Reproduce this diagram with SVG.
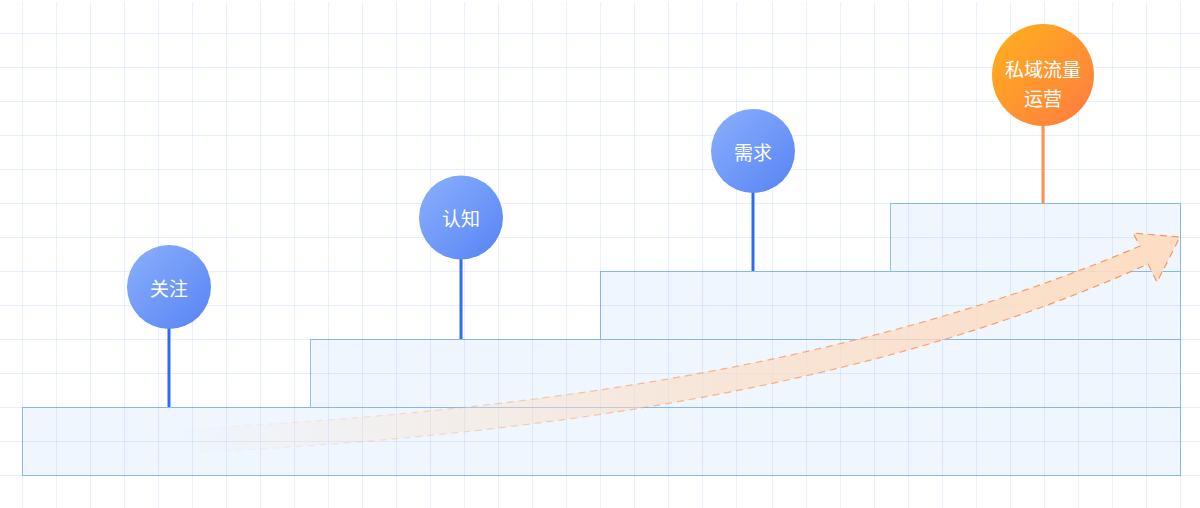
<svg xmlns="http://www.w3.org/2000/svg" width="1200" height="508" viewBox="0 0 1200 508">
  <defs>
    <linearGradient id="gBlue" x1="0" y1="0" x2="1" y2="1">
      <stop offset="0" stop-color="#8cb0fd"/>
      <stop offset="1" stop-color="#5683f3"/>
    </linearGradient>
    <linearGradient id="gOrange" x1="0" y1="0" x2="1" y2="1">
      <stop offset="0" stop-color="#ffb21c"/>
      <stop offset="1" stop-color="#ff7a42"/>
    </linearGradient>
    <linearGradient id="gArrowFill" gradientUnits="userSpaceOnUse" x1="170" y1="440" x2="1180" y2="240">
      <stop offset="0" stop-color="#fcdcc2" stop-opacity="0"/>
      <stop offset="0.2" stop-color="#fcdcc2" stop-opacity="0.25"/>
      <stop offset="0.55" stop-color="#fcdcc2" stop-opacity="0.65"/>
      <stop offset="1" stop-color="#fedcc0" stop-opacity="0.95"/>
    </linearGradient>
    <linearGradient id="gArrowStroke" gradientUnits="userSpaceOnUse" x1="170" y1="440" x2="1180" y2="240">
      <stop offset="0" stop-color="#f7955a" stop-opacity="0"/>
      <stop offset="0.2" stop-color="#f7955a" stop-opacity="0.25"/>
      <stop offset="0.55" stop-color="#f7955a" stop-opacity="0.7"/>
      <stop offset="1" stop-color="#f7955a" stop-opacity="1"/>
    </linearGradient>
  </defs>
  <style>
    .step { fill: #eff6fe; stroke: #8cc2f7; stroke-width: 1; }
    .grid { fill: none; stroke: rgba(70,125,240,0.12); stroke-width: 1; }
    .pin-blue { stroke: #2c6cf6; stroke-width: 3; }
    .pin-orange { stroke: #ff9050; stroke-width: 3; }
    .label { font-family: "Noto Sans CJK SC", "Noto Sans", sans-serif; font-size: 19px; fill: #ffffff; text-anchor: middle; dominant-baseline: central; }
  </style>
  <rect width="1200" height="508" fill="#ffffff"/>

  <g id="steps">
    <rect class="step" x="22.5" y="407.5" width="1158" height="68"/>
    <rect class="step" x="310.5" y="339.5" width="870" height="68"/>
    <rect class="step" x="600.5" y="271.5" width="580" height="68"/>
    <rect class="step" x="890.5" y="203.5" width="290" height="68"/>
  </g>

  <g id="grid">
    <path class="grid" d="M22.5 2V508M56.5 2V508M90.5 2V508M124.5 2V508M158.5 2V508M192.5 2V508M226.5 2V508M260.5 2V508M294.5 2V508M328.5 2V508M362.5 2V508M396.5 2V508M430.5 2V508M464.5 2V508M498.5 2V508M532.5 2V508M566.5 2V508M600.5 2V508M634.5 2V508M668.5 2V508M702.5 2V508M736.5 2V508M772.5 2V508M806.5 2V508M840.5 2V508M874.5 2V508M908.5 2V508M942.5 2V508M976.5 2V508M1010.5 2V508M1044.5 2V508M1078.5 2V508M1112.5 2V508M1146.5 2V508M1180.5 2V508"/>
    <path class="grid" d="M0 33.5H1200M0 67.5H1200M0 101.5H1200M0 135.5H1200M0 169.5H1200M0 203.5H1200M0 237.5H1200M0 271.5H1200M0 305.5H1200M0 339.5H1200M0 373.5H1200M0 407.5H1200M0 441.5H1200M0 475.5H1200"/>
  </g>

  <g id="growth-arrow">
    <path d="M160 430 C500 415 850 370 1140 246 L1133 233 L1180 237 L1157 282 L1148 264 C860 394 500 440 160 454 Z" fill="url(#gArrowFill)" stroke="url(#gArrowStroke)" stroke-width="1.2" stroke-dasharray="7 5"/>
  </g>

  <g id="connectors">
    <line class="pin-blue" x1="169" y1="328" x2="169" y2="407"/>
    <line class="pin-blue" x1="461" y1="258" x2="461" y2="339"/>
    <line class="pin-blue" x1="753" y1="192" x2="753" y2="271"/>
    <line class="pin-orange" x1="1043" y1="125" x2="1043" y2="203"/>
  </g>

  <g id="node-guanzhu">
    <circle cx="169" cy="287" r="42" fill="url(#gBlue)"/>
    <text class="label" x="169" y="287">关注</text>
  </g>
  <g id="node-renzhi">
    <circle cx="461" cy="217.5" r="42" fill="url(#gBlue)"/>
    <text class="label" x="461" y="217.5">认知</text>
  </g>
  <g id="node-xuqiu">
    <circle cx="753" cy="151" r="42" fill="url(#gBlue)"/>
    <text class="label" x="753" y="151">需求</text>
  </g>
  <g id="node-siyu">
    <circle cx="1043" cy="75" r="51" fill="url(#gOrange)"/>
    <text class="label" x="1043" y="68">私域流量</text>
    <text class="label" x="1043" y="97">运营</text>
  </g>
</svg>
